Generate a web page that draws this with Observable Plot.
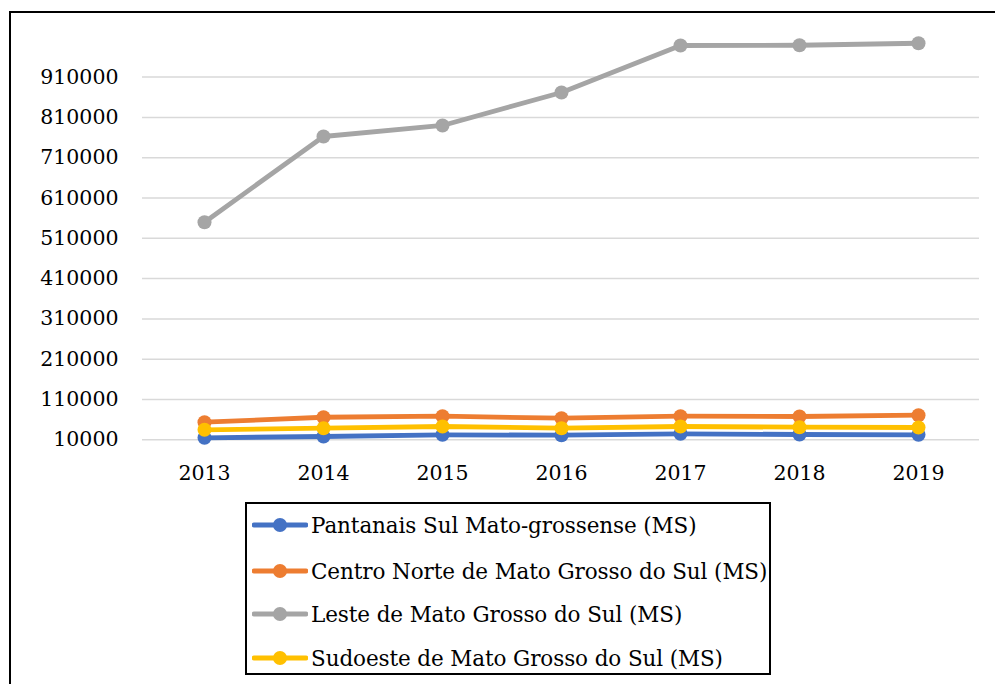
<!DOCTYPE html>
<html>
<head>
<meta charset="utf-8">
<script src="https://cdn.jsdelivr.net/npm/d3@7"></script>
<script src="https://cdn.jsdelivr.net/npm/@observablehq/plot@0.6"></script>
<style>
  html, body { margin: 0; padding: 0; background: #fff; overflow: hidden; }
  #wrap { position: relative; width: 995px; height: 684px; }
  #frame { position: absolute; left: 9px; top: 11px; width: 1000px; height: 700px;
           border-top: 2px solid #000; border-left: 2px solid #000; box-sizing: border-box; }
  #chart { position: absolute; left: 0; top: 0; }
  #legend { position: absolute; left: 245px; top: 502px; width: 526px; height: 173px;
            border: 2px solid #000; box-sizing: border-box; background: #fff; }
  .item { position: absolute; left: 0; height: 30px; display: flex; align-items: center;
          font-family: "DejaVu Serif", serif; font-size: 21.5px; color: #000; white-space: nowrap; letter-spacing: -0.1px; }
  .item svg { margin-left: 5px; margin-right: 3px; }
</style>
</head>
<body>
<div id="wrap">
  <div id="frame"></div>
  <div id="chart"></div>
  <div id="legend"></div>
</div>
<script>
const years = ["2013", "2014", "2015", "2016", "2017", "2018", "2019"];
const seriesNames = [
  "Pantanais Sul Mato-grossense (MS)",
  "Centro Norte de Mato Grosso do Sul (MS)",
  "Leste de Mato Grosso do Sul (MS)",
  "Sudoeste de Mato Grosso do Sul (MS)"
];
const seriesColors = ["#4472C4", "#ED7D31", "#A5A5A5", "#FFC000"];
const pantanais = [15000, 18200, 22400, 21400, 24900, 23200, 22400];
const centroNorte = [53700, 66000, 68600, 63600, 68600, 67800, 71000];
const leste = [550000, 762600, 790000, 871800, 988400, 989000, 994000];
const sudoeste = [34800, 38800, 43000, 38800, 43000, 41300, 40500];
const yTicks = [10000, 110000, 210000, 310000, 410000, 510000, 610000, 710000, 810000, 910000];

const allValues = [pantanais, centroNorte, leste, sudoeste];
const rows = [];
seriesNames.forEach((name, i) => {
  years.forEach((yr, j) => rows.push({series: name, year: yr, value: allValues[i][j]}));
});

const marks = [
  Plot.ruleY(yTicks, {stroke: "#d9d9d9", strokeWidth: 1.5}),
  Plot.axisY(yTicks, {tickSize: 0, tickPadding: 24, tickFormat: d => String(d),
    fontSize: 20.5, fontFamily: "DejaVu Serif"}),
  Plot.axisX({tickSize: 0, tickPadding: 26, fontSize: 20.5, fontFamily: "DejaVu Serif"})
];
seriesNames.forEach((name) => {
  const d = rows.filter(r => r.series === name);
  marks.push(Plot.line(d, {x: "year", y: "value", stroke: "series", strokeWidth: 4.8, strokeLinejoin: "round"}));
  marks.push(Plot.dot(d, {x: "year", y: "value", fill: "series", r: 7}));
});

const chart = Plot.plot({
  width: 995,
  height: 500,
  marginLeft: 142,
  marginRight: 16,
  marginTop: 36.3,
  marginBottom: 60.7,
  style: {background: "transparent", color: "#000", fontFamily: "DejaVu Serif"},
  x: {type: "point", domain: years, range: [142, 979], padding: 0.5, label: null},
  y: {domain: [10000, 1010000], label: null},
  color: {domain: seriesNames, range: seriesColors},
  marks
});
document.getElementById("chart").appendChild(chart);

const legend = document.getElementById("legend");
const centers = [21, 67, 110, 154];
seriesNames.forEach((name, i) => {
  const div = document.createElement("div");
  div.className = "item";
  div.style.top = (centers[i] - 15) + "px";
  div.innerHTML = `<svg width="56" height="20"><line x1="2" y1="10" x2="54" y2="10" stroke="${seriesColors[i]}" stroke-width="4.8" stroke-linecap="round"/><circle cx="28" cy="10" r="7" fill="${seriesColors[i]}"/></svg><span>${name}</span>`;
  legend.appendChild(div);
});
</script>
</body>
</html>
